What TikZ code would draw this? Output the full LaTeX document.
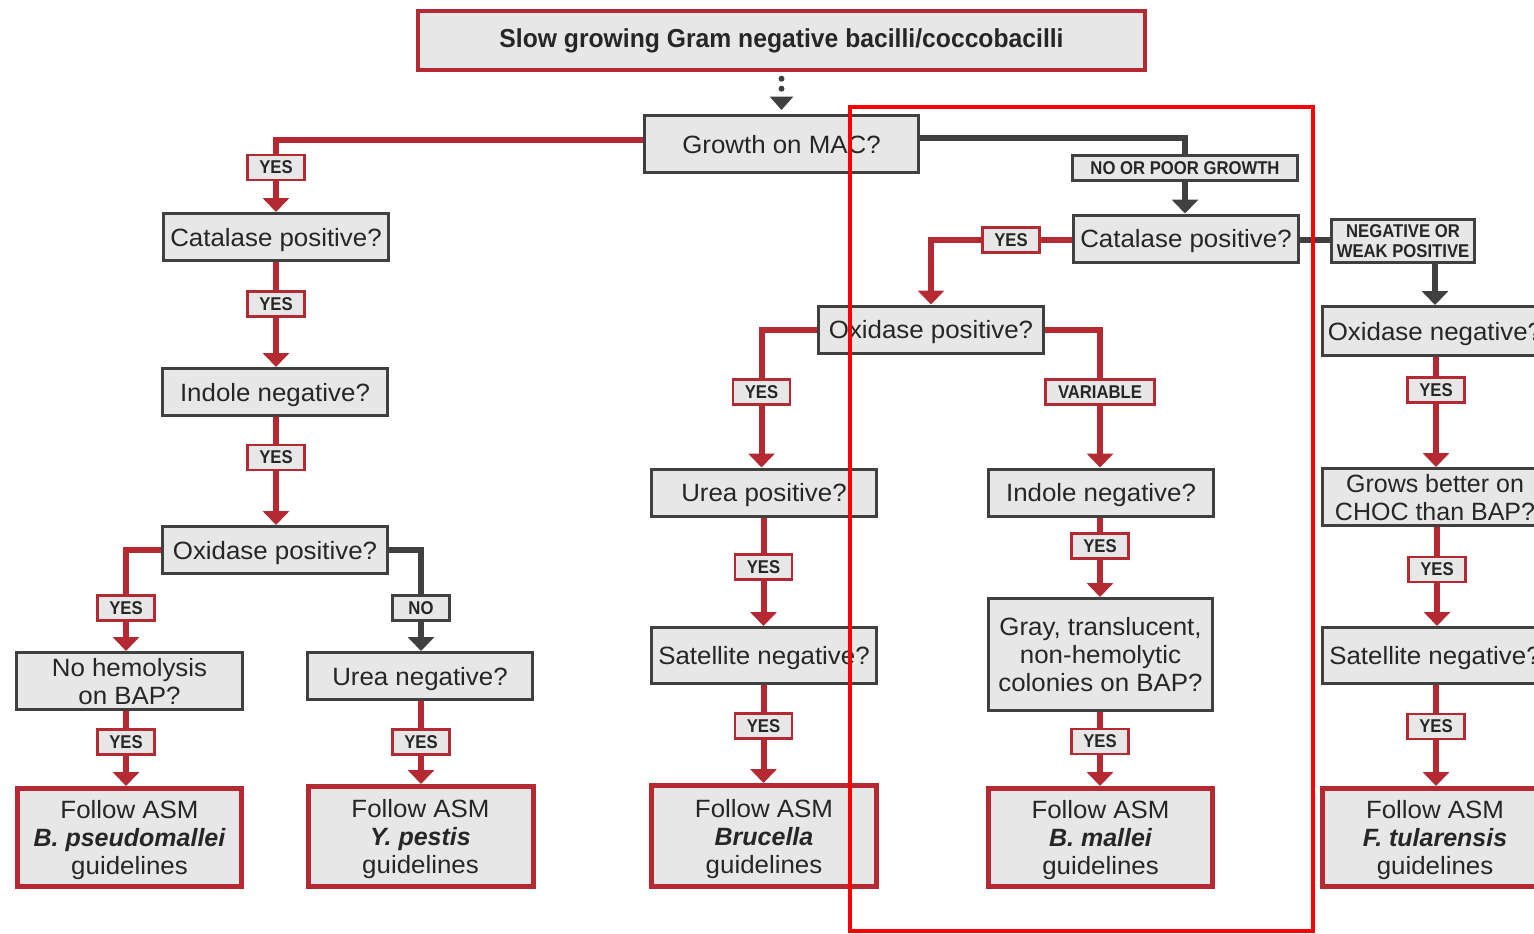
\documentclass[tikz,border=0pt]{standalone}
\usepackage{fontspec}
\setmainfont{Liberation Sans}[FakeStretch=1.035]
\newfontfamily\plainface{Liberation Sans}
\newfontfamily\tagface{Liberation Sans}[FakeStretch=0.9]
\newfontfamily\headface{Liberation Sans}[FakeStretch=0.95]
\usetikzlibrary{arrows.meta}
\definecolor{rd}{RGB}{181,42,50}
\definecolor{dk}{RGB}{64,64,64}
\definecolor{bx}{RGB}{231,231,231}
\definecolor{ink}{RGB}{38,38,38}
\definecolor{hl}{RGB}{255,0,0}
\newcommand\txtbody{\fontsize{18.75pt}{21pt}\selectfont}
\newcommand\txttag{\tagface\bfseries\fontsize{13.9pt}{15pt}\selectfont}
\newcommand\txthead{\headface\bfseries\fontsize{19.5pt}{22pt}\selectfont}
\newcommand\species[1]{{\plainface\bfseries\itshape #1}}
\begin{document}
\begin{tikzpicture}[x=0.75pt,y=-0.75pt,
  bw/.style={minimum width={#1*0.75pt}},
  bh/.style={minimum height={#1*0.75pt}},
  qbox/.style={draw=dk, fill=bx, line width=2.25pt, text=ink, font=\txtbody,
    align=center, inner sep=0pt, text depth=0pt, bw=225, bh=47},
  endbox/.style={draw=rd, fill=bx, line width=3.75pt, text=ink, font=\txtbody,
    align=center, inner sep=0pt, text depth=0pt, bw=224, bh=98},
  tag/.style={draw=rd, fill=bx, line width=1.9pt, text=ink, font=\txttag,
    align=center, inner sep=0pt, bw=57, bh=25},
  tagdk/.style={tag, draw=dk},
  rdline/.style={draw=rd, line width=4.5pt},
  dkline/.style={draw=dk, line width=4.5pt},
  arrowed/.style={-{Triangle[width=19.5pt,length=10.5pt]}},
  dotted arrow/.style={draw=dk, line width=4.5pt, line cap=round,
    dash pattern=on 0pt off 7.5pt, shorten <=5pt, shorten >=3pt,
    -{Triangle[width=17pt,length=10pt]}},
  highlight/.style={draw=hl, line width=3pt}
]
\clip (0,0) rectangle (1534,933);

% ---------- boxes ----------
\node[draw=rd, fill=bx, line width=3pt, text=ink, font=\txthead, inner sep=0pt,
  bw=727, bh=59] (title) at (781.5,40.5) {Slow growing Gram negative bacilli/coccobacilli};
\node[qbox, bw=274, bh=57] (mac) at (781.5,144) {Growth on MAC?};

% left branch: growth on MAC
\node[qbox] (cat1) at (276,237) {Catalase positive?};
\node[qbox] (ind1) at (275,392) {Indole negative?};
\node[qbox] (oxi1) at (275,550) {Oxidase positive?};
\node[qbox, bw=226, bh=57] (nohem) at (129.5,681) {No hemolysis\\on BAP?};
\node[qbox] (urea1) at (420,676) {Urea negative?};
\node[endbox] (fb1) at (129.5,837.5) {Follow ASM\\\species{B. pseudomallei}\\guidelines};
\node[endbox, bw=225, bh=100] (fb2) at (420.5,836.5) {Follow ASM\\\species{Y. pestis}\\guidelines};

% right branch: no or poor growth
\node[qbox] (cat2) at (1186,238.5) {Catalase positive?};
\node[qbox] (oxi2) at (931,329.5) {Oxidase positive?};
\node[qbox] (urea2) at (764,492.5) {Urea positive?};
\node[qbox] (indl2) at (1101,492.5) {Indole negative?};
\node[qbox, bh=56] (sat1) at (764,655.5) {Satellite negative?};
\node[qbox, bw=224, bh=112] (gray) at (1100.5,654.5) {Gray, translucent,\\non-hemolytic\\colonies on BAP?};
\node[endbox, bw=225, bh=101] (fb3) at (764,836) {Follow ASM\\\species{Brucella}\\guidelines};
\node[endbox] (fb4) at (1100.5,837.5) {Follow ASM\\\species{B. mallei}\\guidelines};

% catalase negative or weak
\node[qbox, bh=49] (oxin) at (1435,331) {Oxidase negative?};
\node[qbox, bh=57, font=\plainface\txtbody] (grows) at (1435,497) {Grows better on\\CHOC than BAP?};
\node[qbox, bh=56] (sat2) at (1435,655.5) {Satellite negative?};
\node[endbox, bw=225] (fb5) at (1435,837.5) {Follow ASM\\\species{F. tularensis}\\guidelines};

% ---------- decision labels ----------
\node[tag] (yesA) at (276,167.5) {YES};
\node[tag] (yesB) at (276,304) {YES};
\node[tag] (yesC) at (276,457.5) {YES};
\node[tag] (yesD) at (126,608) {YES};
\node[tagdk] (noA) at (421,608) {NO};
\node[tag] (yesE) at (126,742) {YES};
\node[tag] (yesF) at (421,742) {YES};
\node[tagdk, bw=225] (ngrow) at (1185,168) {NO OR POOR GROWTH};
\node[tag] (yesG) at (1011,240) {YES};
\node[tagdk, bw=143, bh=43] (negw) at (1403,241) {NEGATIVE OR\\WEAK POSITIVE};
\node[tag] (yesH) at (761.5,392) {YES};
\node[tag, bw=109] (varbl) at (1100,392) {VARIABLE};
\node[tag] (yesI) at (763.5,567) {YES};
\node[tag] (yesJ) at (1100,546) {YES};
\node[tag] (yesK) at (763.5,726) {YES};
\node[tag] (yesL) at (1100,741.5) {YES};
\node[tag] (yesM) at (1436,390) {YES};
\node[tag] (yesN) at (1437,569.5) {YES};
\node[tag] (yesO) at (1436,726.5) {YES};

% ---------- connectors ----------
\draw[dotted arrow] (title.south) -- (mac.north);

% growth on MAC
\draw[rdline] ([yshift=3pt]mac.west) -| (yesA.north);
\draw[rdline, arrowed] (yesA.south) -- (cat1.north);
\draw[rdline] (cat1.south) -- (yesB.north);
\draw[rdline, arrowed] (yesB.south) -- (yesB.south |- ind1.north);
\draw[rdline] (yesC.north |- ind1.south) -- (yesC.north);
\draw[rdline, arrowed] (yesC.south) -- (yesC.south |- oxi1.north);
\draw[rdline] (oxi1.west) -| (yesD.north);
\draw[rdline, arrowed] (yesD.south) -- (yesD.south |- nohem.north);
\draw[dkline] (oxi1.east) -| (noA.north);
\draw[dkline, arrowed] (noA.south) -- (noA.south |- urea1.north);
\draw[rdline] (yesE.north |- nohem.south) -- (yesE.north);
\draw[rdline, arrowed] (yesE.south) -- (yesE.south |- fb1.north);
\draw[rdline] (yesF.north |- urea1.south) -- (yesF.north);
\draw[rdline, arrowed] (yesF.south) -- (yesF.south |- fb2.north);

% no or poor growth
\draw[dkline] ([yshift=4.5pt]mac.east) -| (ngrow.north);
\draw[dkline, arrowed] (ngrow.south) -- (ngrow.south |- cat2.north);
\draw[rdline] (cat2.west |- yesG.east) -- (yesG.east);
\draw[rdline, arrowed] (yesG.west) -| (oxi2.north);
\draw[dkline] (cat2.east |- yesG.east) -- (negw.west |- yesG.east);
\draw[dkline, arrowed] (oxin.north |- negw.south) -- (oxin.north);
\draw[rdline] (oxi2.west) -| (yesH.north);
\draw[rdline, arrowed] (yesH.south) -- (yesH.south |- urea2.north);
\draw[rdline] (oxi2.east) -| (varbl.north);
\draw[rdline, arrowed] (varbl.south) -- (varbl.south |- indl2.north);
\draw[rdline] (yesI.north |- urea2.south) -- (yesI.north);
\draw[rdline, arrowed] (yesI.south) -- (yesI.south |- sat1.north);
\draw[rdline] (yesK.north |- sat1.south) -- (yesK.north);
\draw[rdline, arrowed] (yesK.south) -- (yesK.south |- fb3.north);
\draw[rdline] (yesJ.north |- indl2.south) -- (yesJ.north);
\draw[rdline, arrowed] (yesJ.south) -- (yesJ.south |- gray.north);
\draw[rdline] (yesL.north |- gray.south) -- (yesL.north);
\draw[rdline, arrowed] (yesL.south) -- (yesL.south |- fb4.north);

% catalase negative or weak positive
\draw[rdline] (yesM.north |- oxin.south) -- (yesM.north);
\draw[rdline, arrowed] (yesM.south) -- (yesM.south |- grows.north);
\draw[rdline] (yesN.north |- grows.south) -- (yesN.north);
\draw[rdline, arrowed] (yesN.south) -- (yesN.south |- sat2.north);
\draw[rdline] (yesO.north |- sat2.south) -- (yesO.north);
\draw[rdline, arrowed] (yesO.south) -- (yesO.south |- fb5.north);

% highlighted region
\draw[highlight] (850,107) rectangle (1313,931);
\end{tikzpicture}
\end{document}
